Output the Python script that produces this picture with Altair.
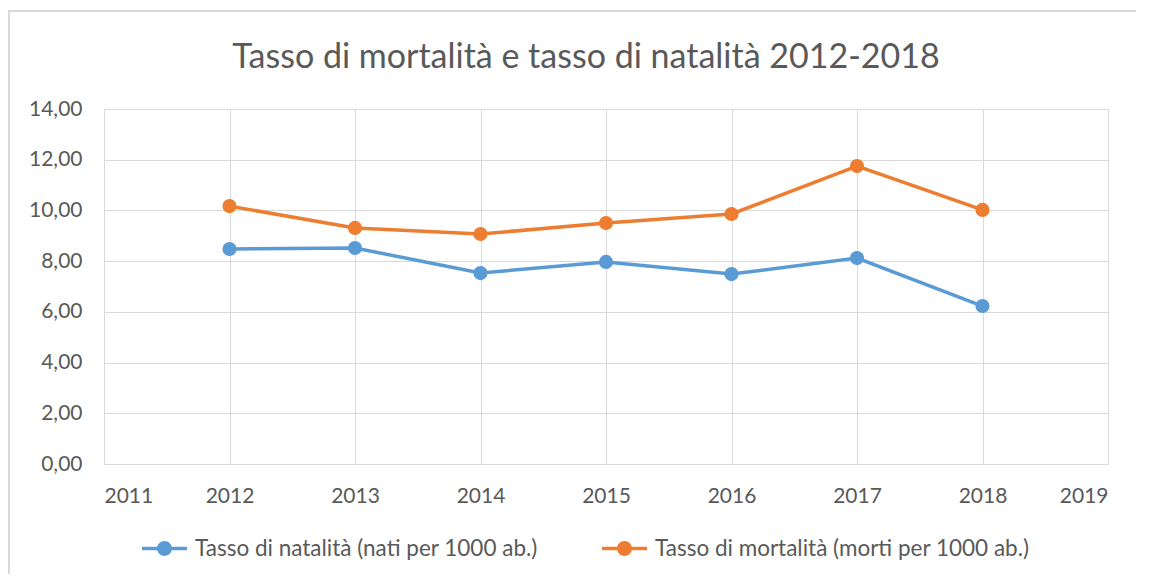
import altair as alt
import pandas as pd

years = [2012, 2013, 2014, 2015, 2016, 2017, 2018]
natalita = [8.48, 8.52, 7.53, 7.97, 7.49, 8.12, 6.23]
mortalita = [10.17, 9.31, 9.07, 9.50, 9.86, 11.75, 10.02]
series_names = ["Tasso di natalità (nati per 1000 ab.)", "Tasso di mortalità (morti per 1000 ab.)"]
series_colors = ["#5B9BD5", "#ED7D31"]
title_text = "Tasso di mortalità e tasso di natalità 2012-2018"

rows = []
for y, v in zip(years, natalita):
    rows.append({"anno": y, "valore": v, "serie": series_names[0]})
for y, v in zip(years, mortalita):
    rows.append({"anno": y, "valore": v, "serie": series_names[1]})
df = pd.DataFrame(rows)

FONT = "Lato"
GRAY = "#595959"
GRID = "#d9d9d9"

W, H = 1004, 355

x_enc = alt.X("anno:Q",
              scale=alt.Scale(domain=[2011, 2019], nice=False, zero=False),
              axis=alt.Axis(values=list(range(2011, 2020)), format="d", title=None,
                            grid=True, gridColor=GRID, domainColor=GRID, ticks=False,
                            labelPadding=21, labelFontSize=21, labelColor=GRAY, labelFont=FONT))
y_enc = alt.Y("valore:Q",
              scale=alt.Scale(domain=[0, 14], nice=False),
              axis=alt.Axis(values=list(range(0, 15, 2)), title=None,
                            labelExpr="replace(format(datum.value, '.2f'), '.', ',')",
                            grid=True, gridColor=GRID, domain=False, ticks=False,
                            labelPadding=22, labelFontSize=21, labelColor=GRAY, labelFont=FONT))
color_scale = alt.Scale(domain=series_names, range=series_colors)
color_leg = alt.Color("serie:N", scale=color_scale,
                      legend=alt.Legend(
                          title=None, orient="none", direction="horizontal",
                          legendX=38, legendY=417,
                          symbolType="M-1,-0.08H1V0.08H-1Z M0.33,0A0.33,0.33 0 1,1 -0.33,0A0.33,0.33 0 1,1 0.33,0Z",
                          symbolSize=2025, symbolStrokeWidth=0, symbolOpacity=1,
                          labelFontSize=22.5, labelColor=GRAY, labelFont=FONT, labelLimit=600,
                          columnPadding=64, labelOffset=8))

base = alt.Chart(df)
lines = base.mark_line(strokeWidth=3.5).encode(
    x=x_enc, y=y_enc, detail="serie:N",
    color=alt.Color("serie:N", scale=color_scale, legend=None))
points = base.mark_point(filled=True, size=200, opacity=1, shape="circle").encode(
    x=x_enc, y=y_enc, color=color_leg)

frame = alt.Chart(pd.DataFrame({"a": [0]})).mark_rect(fill="transparent", stroke=GRID, strokeWidth=2).encode(
    x=alt.value(-95), x2=alt.value(1200), y=alt.value(-98), y2=alt.value(700))

title = alt.Chart(pd.DataFrame({"t": [title_text]})).mark_text(
    font=FONT, fontSize=34, color=GRAY, align="center", baseline="middle").encode(
    text="t:N", x=alt.value(482), y=alt.value(-51))

chart = alt.layer(frame, title, lines, points).resolve_legend(color="independent").properties(
    width=W, height=H,
    padding={"left": 96, "top": 101, "right": 28, "bottom": 110},
    autosize=alt.AutoSizeParams(type="none"),
).configure_view(stroke=None).configure(background="white")

chart.save("out.html", embed_options={"renderer": "svg", "actions": False})
